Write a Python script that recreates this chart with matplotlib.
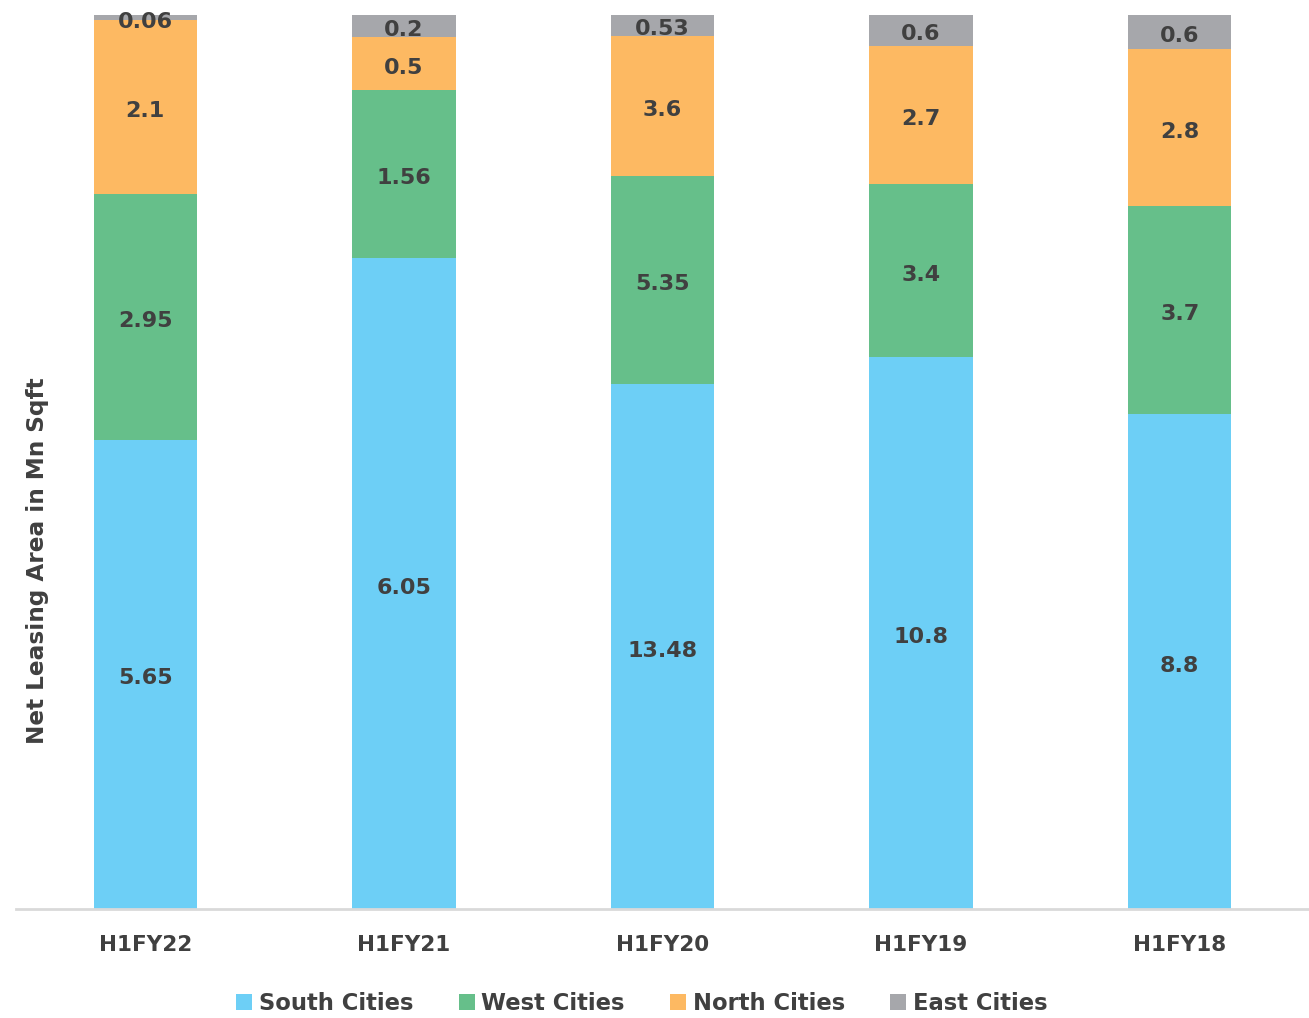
import numpy as np
import matplotlib.pyplot as plt
from matplotlib.patches import Patch

periods = ["H1FY22", "H1FY21", "H1FY20", "H1FY19", "H1FY18"]
south = [5.65, 6.05, 13.48, 10.8, 8.8]
west = [2.95, 1.56, 5.35, 3.4, 3.7]
north = [2.1, 0.5, 3.6, 2.7, 2.8]
east = [0.06, 0.2, 0.53, 0.6, 0.6]

series = [
    ("South Cities", south, "#6DCFF6"),
    ("West Cities", west, "#66BF8A"),
    ("North Cities", north, "#FDB962"),
    ("East Cities", east, "#A6A7AB"),
]

TXT = "#404040"
plt.rcParams["font.family"] = ["DejaVu Sans"]

fig = plt.figure(figsize=(13.09, 10.18), dpi=100)
ax = fig.add_axes([16 / 1309, 109 / 1018, 1 - 16 / 1309, (909 - 15) / 1018])

x = np.arange(len(periods))
totals = np.sum([s for _, s, _ in series], axis=0)
bottom = np.zeros(len(periods))
for name, vals, color in series:
    frac = np.array(vals) / totals
    ax.bar(x, frac, 0.4, bottom=bottom, color=color, label=name)
    for xi, b, f, v in zip(x, bottom, frac, vals):
        ax.annotate(f"{v:g}", (xi, b + f / 2), xytext=(0, -3), textcoords="offset points",
                    ha="center", va="center", fontsize=16, fontweight="bold", color=TXT)
    bottom += frac

ax.set_xlim(-0.5, 4.5)
ax.set_ylim(0, 1)
ax.set_yticks([])
ax.set_xticks(x)
ax.set_xticklabels(periods, fontsize=15.5, fontweight="bold", color=TXT)
ax.tick_params(axis="x", length=0, pad=19)
for side in ["top", "right", "left"]:
    ax.spines[side].set_visible(False)
ax.spines["bottom"].set_color("#D9D9D9")
ax.spines["bottom"].set_linewidth(2)

fig.text(38 / 1309, 1 - 561 / 1018, "Net Leasing Area in Mn Sqft", rotation=90,
         ha="center", va="center", fontsize=16.7, fontweight="bold", color=TXT)

handles = [Patch(facecolor=c, label=n) for n, _, c in series]
fig.legend(handles=handles, loc="center", bbox_to_anchor=(642 / 1309, 1 - 1003 / 1018),
           ncol=4, frameon=False, handlelength=0.7, handleheight=0.7,
           handletextpad=0.3, columnspacing=2.0,
           prop={"size": 16.3, "weight": "bold"}, labelcolor=TXT)

fig.savefig("out.png", dpi=100)
